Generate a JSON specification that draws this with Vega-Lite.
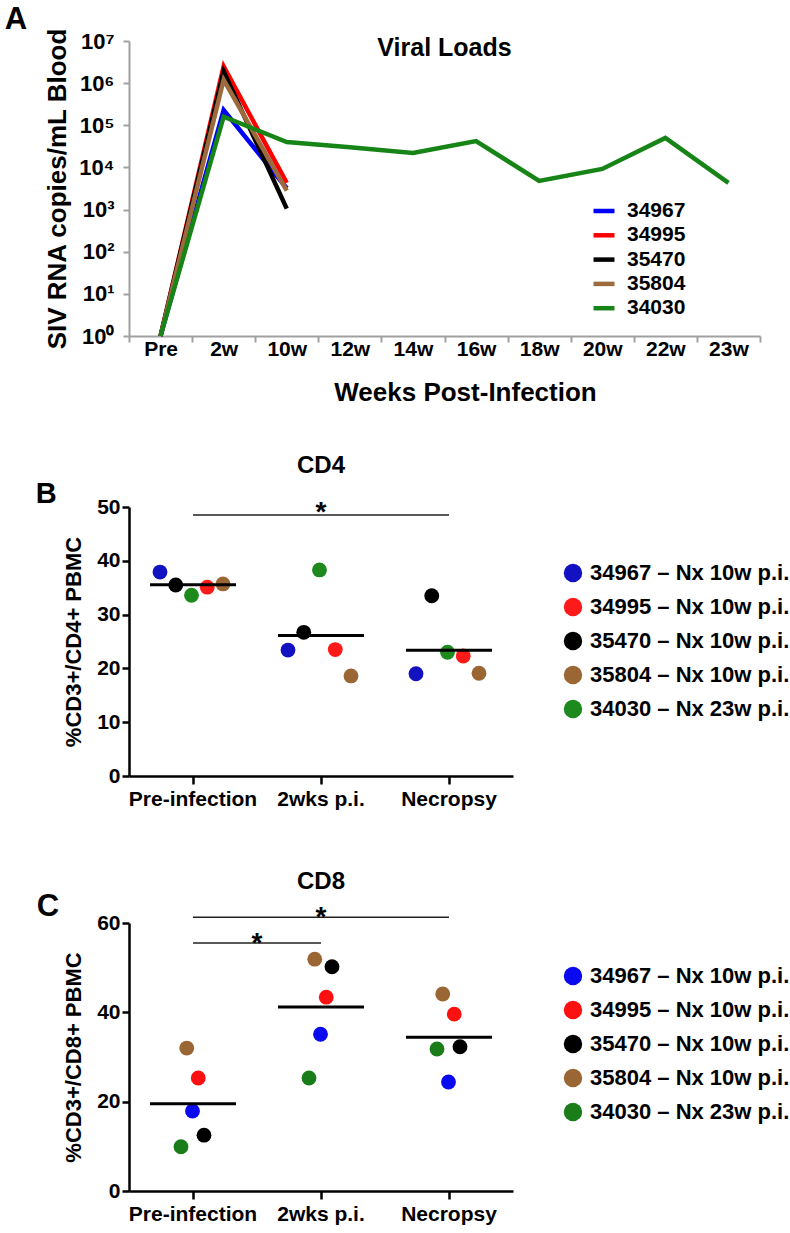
{
  "$schema": "https://vega.github.io/schema/vega-lite/v6.json",
  "background": "white",
  "padding": {"left": 4, "top": 4, "right": 4, "bottom": 4},
  "spacing": 49,
  "config": {
    "font": "Liberation Sans",
    "view": {"stroke": null},
    "axis": {"labelFontWeight": "bold", "titleFontWeight": "bold", "labelColor": "black", "titleColor": "black", "grid": false, "labelFont": "Liberation Sans", "titleFont": "Liberation Sans"},
    "legend": {"labelFontWeight": "bold", "labelColor": "black", "labelFont": "Liberation Sans", "labelLimit": 400},
    "title": {"font": "Liberation Sans", "fontWeight": "bold", "color": "black"}
  },
  "datasets": {
    "viral": [
      {"id": "34967", "week": "Pre", "wk": 0, "load": 1},
      {"id": "34967", "week": "2w", "wk": 2, "load": 230000},
      {"id": "34967", "week": "10w", "wk": 10, "load": 3200},
      {"id": "34995", "week": "Pre", "wk": 0, "load": 1},
      {"id": "34995", "week": "2w", "wk": 2, "load": 2500000},
      {"id": "34995", "week": "10w", "wk": 10, "load": 4300},
      {"id": "35470", "week": "Pre", "wk": 0, "load": 1},
      {"id": "35470", "week": "2w", "wk": 2, "load": 1900000},
      {"id": "35470", "week": "10w", "wk": 10, "load": 1050},
      {"id": "35804", "week": "Pre", "wk": 0, "load": 1},
      {"id": "35804", "week": "2w", "wk": 2, "load": 1200000},
      {"id": "35804", "week": "10w", "wk": 10, "load": 2800},
      {"id": "34030", "week": "Pre", "wk": 0, "load": 1},
      {"id": "34030", "week": "2w", "wk": 2, "load": 160000},
      {"id": "34030", "week": "10w", "wk": 10, "load": 40000},
      {"id": "34030", "week": "12w", "wk": 12, "load": 30000},
      {"id": "34030", "week": "14w", "wk": 14, "load": 22000},
      {"id": "34030", "week": "16w", "wk": 16, "load": 42000},
      {"id": "34030", "week": "18w", "wk": 18, "load": 4800},
      {"id": "34030", "week": "20w", "wk": 20, "load": 9200},
      {"id": "34030", "week": "22w", "wk": 22, "load": 50000},
      {"id": "34030", "week": "23w", "wk": 23, "load": 4300}
    ],
    "tcell": [
      {"label": "34967 – Nx 10w p.i.", "time": "Pre-infection", "cd4": 37.9, "cd8": 17.9},
      {"label": "34995 – Nx 10w p.i.", "time": "Pre-infection", "cd4": 35.1, "cd8": 25.3},
      {"label": "35470 – Nx 10w p.i.", "time": "Pre-infection", "cd4": 35.5, "cd8": 12.5},
      {"label": "35804 – Nx 10w p.i.", "time": "Pre-infection", "cd4": 35.7, "cd8": 32.0},
      {"label": "34030 – Nx 23w p.i.", "time": "Pre-infection", "cd4": 33.6, "cd8": 9.9},
      {"label": "34967 – Nx 10w p.i.", "time": "2wks p.i.", "cd4": 23.4, "cd8": 35.1},
      {"label": "34995 – Nx 10w p.i.", "time": "2wks p.i.", "cd4": 23.5, "cd8": 43.4},
      {"label": "35470 – Nx 10w p.i.", "time": "2wks p.i.", "cd4": 26.7, "cd8": 50.2},
      {"label": "35804 – Nx 10w p.i.", "time": "2wks p.i.", "cd4": 18.6, "cd8": 51.9},
      {"label": "34030 – Nx 23w p.i.", "time": "2wks p.i.", "cd4": 38.3, "cd8": 25.3},
      {"label": "34967 – Nx 10w p.i.", "time": "Necropsy", "cd4": 19.0, "cd8": 24.4},
      {"label": "34995 – Nx 10w p.i.", "time": "Necropsy", "cd4": 22.3, "cd8": 39.6},
      {"label": "35470 – Nx 10w p.i.", "time": "Necropsy", "cd4": 33.5, "cd8": 32.3},
      {"label": "35804 – Nx 10w p.i.", "time": "Necropsy", "cd4": 19.1, "cd8": 44.1},
      {"label": "34030 – Nx 23w p.i.", "time": "Necropsy", "cd4": 23.0, "cd8": 31.8}
    ],
    "sigB": [
      {"pair": 1, "time": "Pre-infection", "level": 48.5},
      {"pair": 1, "time": "Necropsy", "level": 48.5}
    ],
    "sigC": [
      {"pair": 1, "time": "Pre-infection", "level": 61.3},
      {"pair": 1, "time": "Necropsy", "level": 61.3},
      {"pair": 2, "time": "Pre-infection", "level": 55.5},
      {"pair": 2, "time": "2wks p.i.", "level": 55.5}
    ]
  },
  "vconcat": [
    {
      "width": 631,
      "height": 295,
      "title": {"text": "A", "anchor": "start", "frame": "bounds", "fontSize": 31, "dx": -40, "dy": 9, "offset": 0},
      "layer": [
        {
          "data": {"name": "viral"},
          "mark": {"type": "line", "strokeWidth": 4.5, "clip": false},
          "encoding": {
            "x": {
              "field": "week", "type": "nominal", "bandPosition": 0.5,
              "scale": {"type": "band", "domain": ["Pre", "2w", "10w", "12w", "14w", "16w", "18w", "20w", "22w", "23w"], "paddingInner": 0, "paddingOuter": 0},
              "axis": {"title": "Weeks Post-Infection", "titleFontSize": 26, "titlePadding": 20, "titleX": 336, "labelFontSize": 21, "labelAngle": 0, "tickBand": "extent", "domainColor": "#a0a0a0", "tickColor": "#a0a0a0", "domainWidth": 2, "tickWidth": 2, "tickSize": 6, "labelPadding": -4}
            },
            "y": {
              "field": "load", "type": "quantitative",
              "scale": {"type": "log", "domain": [1, 10000000], "nice": false},
              "axis": {"title": "SIV RNA copies/mL Blood", "titleFontSize": 26, "titlePadding": 8, "values": [1, 10, 100, 1000, 10000, 100000, 1000000, 10000000], "labelExpr": "'10' + ['⁰','¹','²','³','⁴','⁵','⁶','⁷'][round(log(datum.value)/LN10)]", "labelFontSize": 22, "domainColor": "#a0a0a0", "tickColor": "#a0a0a0", "domainWidth": 2, "tickWidth": 2, "tickSize": 6, "labelPadding": 9}
            },
            "color": {
              "field": "id", "type": "nominal",
              "scale": {"domain": ["34967", "34995", "35470", "35804", "34030"], "range": ["#0000ff", "#ff0000", "#000000", "#9c6a3c", "#168416"]},
              "legend": {"orient": "none", "legendX": 462, "legendY": 157, "title": null, "symbolType": "stroke", "symbolSize": 440, "symbolStrokeWidth": 4.5, "labelFontSize": 21, "rowPadding": 1.3, "labelOffset": 10, "padding": 0}
            },
            "order": {"field": "wk", "type": "quantitative"}
          }
        },
        {
          "data": {"values": [{"label": "Viral Loads", "week": "16w", "load": 6800000}]},
          "mark": {"type": "text", "fontSize": 25, "fontWeight": "bold", "baseline": "middle", "align": "center", "font": "Liberation Sans"},
          "encoding": {
            "x": {"field": "week", "type": "nominal", "bandPosition": 0},
            "y": {"field": "load", "type": "quantitative"},
            "text": {"field": "label"}
          }
        }
      ]
    },
    {
      "width": 384,
      "height": 269,
      "title": {"text": "B", "anchor": "start", "frame": "bounds", "fontSize": 29, "dx": -27, "dy": 55, "offset": 0},
      "layer": [
        {
          "data": {"name": "tcell"},
          "mark": {"type": "circle", "size": 220, "opacity": 1},
          "encoding": {
            "x": {
              "field": "time", "type": "nominal",
              "scale": {"type": "band", "domain": ["Pre-infection", "2wks p.i.", "Necropsy"], "paddingInner": 0, "paddingOuter": 0},
              "axis": {"title": " ", "titleFontSize": 6, "titlePadding": 5, "labelFontSize": 21, "labelAngle": 0, "bandPosition": 0.5, "domainColor": "black", "domainWidth": 2.5, "tickColor": "black", "tickWidth": 2.5, "tickSize": 8, "labelPadding": 4}
            },
            "xOffset": {
              "field": "label", "type": "nominal",
              "scale": {"type": "point", "domain": ["34967 – Nx 10w p.i.", "35470 – Nx 10w p.i.", "34030 – Nx 23w p.i.", "34995 – Nx 10w p.i.", "35804 – Nx 10w p.i."], "range": [31, 94], "padding": 0}
            },
            "y": {
              "field": "cd4", "type": "quantitative",
              "scale": {"domain": [0, 50], "nice": false},
              "axis": {"title": "%CD3+/CD4+ PBMC", "titleFontSize": 22, "titlePadding": 11, "values": [0, 10, 20, 30, 40, 50], "labelFontSize": 21, "domainColor": "black", "domainWidth": 2.5, "tickColor": "black", "tickWidth": 2.5, "tickSize": 7, "labelPadding": 2}
            },
            "color": {
              "field": "label", "type": "nominal",
              "scale": {"domain": ["34967 – Nx 10w p.i.", "34995 – Nx 10w p.i.", "35470 – Nx 10w p.i.", "35804 – Nx 10w p.i.", "34030 – Nx 23w p.i."], "range": ["#1212c0", "#ff1a1a", "#000000", "#9a6634", "#1e8a1e"]},
              "legend": {"orient": "none", "legendX": 433, "legendY": 55, "title": null, "symbolType": "circle", "symbolSize": 340, "symbolStrokeWidth": 0, "labelFontSize": 22, "rowPadding": 12, "labelOffset": 6, "padding": 0}
            }
          }
        },
        {
          "data": {"name": "tcell"},
          "mark": {"type": "tick", "orient": "horizontal", "size": 86, "thickness": 3, "color": "black"},
          "encoding": {
            "x": {"field": "time", "type": "nominal"},
            "y": {"aggregate": "mean", "field": "cd4", "type": "quantitative"}
          }
        },
        {
          "data": {"name": "sigB"},
          "mark": {"type": "line", "strokeWidth": 1.5, "color": "#222222"},
          "encoding": {
            "x": {"field": "time", "type": "nominal", "bandPosition": 0.5},
            "y": {"field": "level", "type": "quantitative"},
            "detail": {"field": "pair", "type": "nominal"}
          }
        },
        {
          "data": {"values": [{"t": "*", "time": "2wks p.i.", "level": 47.4}]},
          "mark": {"type": "text", "fontSize": 28, "fontWeight": "bold", "baseline": "alphabetic", "align": "center", "font": "Liberation Sans"},
          "encoding": {
            "x": {"field": "time", "type": "nominal", "bandPosition": 0.5},
            "y": {"field": "level", "type": "quantitative"},
            "text": {"field": "t"}
          }
        },
        {
          "data": {"values": [{"t": "CD4", "time": "2wks p.i.", "level": 57.6}]},
          "mark": {"type": "text", "fontSize": 24, "fontWeight": "bold", "baseline": "middle", "align": "center", "font": "Liberation Sans"},
          "encoding": {
            "x": {"field": "time", "type": "nominal", "bandPosition": 0.5},
            "y": {"field": "level", "type": "quantitative"},
            "text": {"field": "t"}
          }
        }
      ]
    },
    {
      "width": 384,
      "height": 268,
      "title": {"text": "C", "anchor": "start", "frame": "bounds", "fontSize": 31, "dx": -26, "dy": 53, "offset": 0},
      "layer": [
        {
          "data": {"name": "tcell"},
          "mark": {"type": "circle", "size": 220, "opacity": 1},
          "encoding": {
            "x": {
              "field": "time", "type": "nominal",
              "scale": {"type": "band", "domain": ["Pre-infection", "2wks p.i.", "Necropsy"], "paddingInner": 0, "paddingOuter": 0},
              "axis": {"title": null, "labelFontSize": 21, "labelAngle": 0, "bandPosition": 0.5, "domainColor": "black", "domainWidth": 2.5, "tickColor": "black", "tickWidth": 2.5, "tickSize": 8, "labelPadding": 4}
            },
            "xOffset": {
              "field": "label", "type": "nominal",
              "scale": {"type": "point", "domain": ["34030 – Nx 23w p.i.", "35804 – Nx 10w p.i.", "34967 – Nx 10w p.i.", "34995 – Nx 10w p.i.", "35470 – Nx 10w p.i."], "range": [52, 75], "padding": 0}
            },
            "y": {
              "field": "cd8", "type": "quantitative",
              "scale": {"domain": [0, 60], "nice": false},
              "axis": {"title": "%CD3+/CD8+ PBMC", "titleFontSize": 22, "titlePadding": 11, "values": [0, 20, 40, 60], "labelFontSize": 21, "domainColor": "black", "domainWidth": 2.5, "tickColor": "black", "tickWidth": 2.5, "tickSize": 7, "labelPadding": 2}
            },
            "color": {
              "field": "label", "type": "nominal",
              "scale": {"domain": ["34967 – Nx 10w p.i.", "34995 – Nx 10w p.i.", "35470 – Nx 10w p.i.", "35804 – Nx 10w p.i.", "34030 – Nx 23w p.i."], "range": ["#0a0af0", "#ff1010", "#000000", "#9a6634", "#1a7d1a"]},
              "legend": {"orient": "none", "legendX": 433, "legendY": 42, "title": null, "symbolType": "circle", "symbolSize": 340, "symbolStrokeWidth": 0, "labelFontSize": 22, "rowPadding": 12, "labelOffset": 6, "padding": 0}
            }
          }
        },
        {
          "data": {"name": "tcell"},
          "mark": {"type": "tick", "orient": "horizontal", "size": 86, "thickness": 3, "color": "black"},
          "encoding": {
            "x": {"field": "time", "type": "nominal"},
            "y": {"aggregate": "mean", "field": "cd8", "type": "quantitative"}
          }
        },
        {
          "data": {"name": "sigC"},
          "mark": {"type": "line", "strokeWidth": 1.5, "color": "#222222"},
          "encoding": {
            "x": {"field": "time", "type": "nominal", "bandPosition": 0.5},
            "y": {"field": "level", "type": "quantitative"},
            "detail": {"field": "pair", "type": "nominal"}
          }
        },
        {
          "data": {"values": [{"t": "*", "time": "2wks p.i.", "pos": 0.5, "level": 59.4}, {"t": "*", "time": "2wks p.i.", "pos": 0, "level": 53.6}]},
          "layer": [
            {
              "transform": [{"filter": "datum.pos == 0.5"}],
              "mark": {"type": "text", "fontSize": 28, "fontWeight": "bold", "baseline": "alphabetic", "align": "center", "font": "Liberation Sans"},
              "encoding": {
                "x": {"field": "time", "type": "nominal", "bandPosition": 0.5},
                "y": {"field": "level", "type": "quantitative"},
                "text": {"field": "t"}
              }
            },
            {
              "transform": [{"filter": "datum.pos == 0"}],
              "mark": {"type": "text", "fontSize": 28, "fontWeight": "bold", "baseline": "alphabetic", "align": "center", "font": "Liberation Sans"},
              "encoding": {
                "x": {"field": "time", "type": "nominal", "bandPosition": 0},
                "y": {"field": "level", "type": "quantitative"},
                "text": {"field": "t"}
              }
            }
          ]
        },
        {
          "data": {"values": [{"t": "CD8", "time": "2wks p.i.", "level": 69.2}]},
          "mark": {"type": "text", "fontSize": 24, "fontWeight": "bold", "baseline": "middle", "align": "center", "font": "Liberation Sans"},
          "encoding": {
            "x": {"field": "time", "type": "nominal", "bandPosition": 0.5},
            "y": {"field": "level", "type": "quantitative"},
            "text": {"field": "t"}
          }
        }
      ]
    }
  ],
  "resolve": {"scale": {"x": "independent", "y": "independent", "color": "independent", "xOffset": "independent"}, "legend": {"color": "independent"}}
}
